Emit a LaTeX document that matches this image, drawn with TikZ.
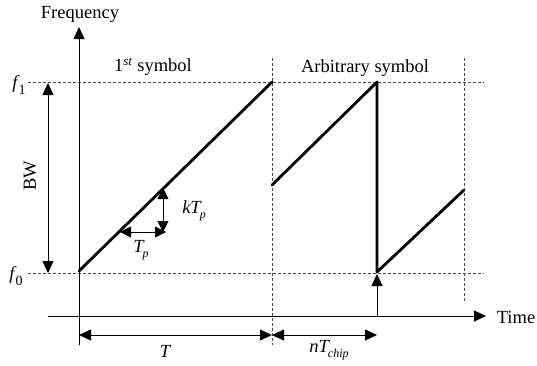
\documentclass[tikz,border=0pt]{standalone}
\usepackage{fontspec}
\setmainfont{Liberation Serif}
\usetikzlibrary{arrows.meta}
\newcommand{\vi}[1]{{\itshape #1}}
\newcommand{\sbi}[1]{\raisebox{-0.3em}{\fontsize{12}{14}\selectfont\itshape #1}}
\newcommand{\sbn}[1]{\raisebox{-0.3em}{\fontsize{14}{16}\selectfont #1}}
\begin{document}
\begin{tikzpicture}[x=1pt,y=-1pt,
  axis/.style={line width=0.8pt},
  grid/.style={line width=0.7pt, dash pattern=on 3pt off 2pt, gray!60!black},
  chirp/.style={line width=2.8pt, line cap=round, line join=round},
  big/.style={-{Triangle[length=12pt,width=11pt]}},
  bothbig/.style={{Triangle[length=12pt,width=11pt]}-{Triangle[length=12pt,width=11pt]}},
  bothsmall/.style={line width=0.8pt,{Triangle[length=11pt,width=11pt]}-{Triangle[length=11pt,width=11pt]}},
  lbl/.style={font=\fontsize{18.5}{22}\selectfont, inner sep=0pt}]
\useasboundingbox (0,0) rectangle (537,365);
% key points
\coordinate (fbot) at (79,345);
\coordinate (ftop) at (79,27);
\coordinate (tleft) at (48,316);
\coordinate (tright) at (486,316);
\coordinate (g1l) at (28,82);   \coordinate (g1r) at (484,82);
\coordinate (g0l) at (28,273);  \coordinate (g0r) at (484,273);
\coordinate (v1t) at (272,58);  \coordinate (v1b) at (272,345);
\coordinate (v2t) at (464,58);  \coordinate (v2b) at (464,303);
\coordinate (bwt) at (48,83);   \coordinate (bwb) at (48,273);
\coordinate (r1a) at (79,271);  \coordinate (r1b) at (272,82);
\coordinate (r2a) at (272,185); \coordinate (r2b) at (377,82);
\coordinate (r2c) at (377,272); \coordinate (r2d) at (464,190);
\coordinate (tpa) at (120,232); \coordinate (tpb) at (166,232);
\coordinate (kta) at (163,188); \coordinate (ktb) at (163,232);
\coordinate (upa) at (377,316); \coordinate (upb) at (377,274);
\coordinate (da) at (79,335);   \coordinate (db) at (272,335); \coordinate (dc) at (377,335);
% grid lines
\draw[grid] (g1l) -- (g1r);
\draw[grid] (g0l) -- (g0r);
\draw[grid] (v1t) -- (v1b);
\draw[grid] (v2t) -- (v2b);
% axes
\draw[axis,big] (fbot) -- (ftop);
\draw[axis,big] (tleft) -- (tright);
% chirps
\draw[chirp] (r1a) -- (r1b);
\draw[chirp] (r2a) -- (r2b) -- (r2c) -- (r2d);
% BW arrow
\draw[axis,bothbig] (bwt) -- (bwb);
% slope triangle
\draw[bothsmall] (tpa) -- (tpb);
\draw[bothsmall] (kta) -- (ktb);
% upward arrow
\draw[axis,big] (upa) -- (upb);
% dimension arrows
\draw[axis,bothbig] (da) -- (db);
\draw[axis,bothbig] (db) -- (dc);
% labels
\node[lbl] (freq) at (80,14) {Frequency};
\node[lbl] (timel) at (516,317) {Time};
\node[lbl] (f1) at (19,85) {\vi{f}\kern1pt\sbn{1}};
\node[lbl] (f0) at (16,276) {\vi{f}\kern1pt\sbn{0}};
\node[lbl, rotate=90] (bw) at (30,176) {BW};
\node[lbl] (sym1) at (153,67) {1\textsuperscript{\textit{st}} symbol};
\node[lbl] (sym2) at (365,68) {Arbitrary symbol};
\node[lbl] (tp) at (141,250) {\vi{T}\kern-1pt\sbi{p}};
\node[lbl] (ktp) at (194,211) {\vi{kT}\kern-1pt\sbi{p}};
\node[lbl] (tl) at (165,351) {\vi{T}};
\node[lbl] (ntl) at (329,350) {\vi{nT}\kern-1pt\sbi{chip}};
\end{tikzpicture}
\end{document}
